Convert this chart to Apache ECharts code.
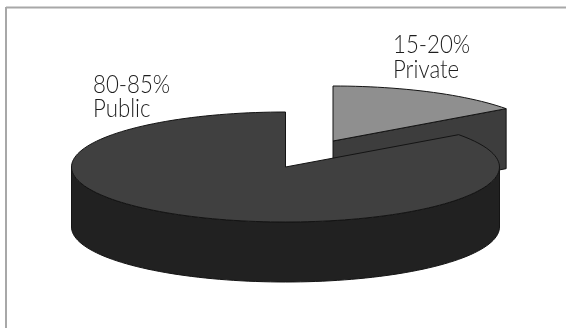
<!DOCTYPE html>
<html>
<head>
<meta charset="utf-8">
<style>
  html, body { margin: 0; padding: 0; background: #fff; }
  #chart { width: 566px; height: 328px; }
</style>
<script src="https://cdn.jsdelivr.net/npm/echarts@6/dist/echarts.min.js"></script>
</head>
<body>
<div id="chart"></div>
<script>
// Share of spending by sector, drawn back to front
const categories = ['Private', 'Public'];
const shares = [15, 85];
const rangeLabels = ['15-20%', '80-85%'];

// Disc projection
const centerX = 285.5, centerY = 167, radiusX = 214, radiusY = 55, depth = 60;
const startAngle = 90;
const explode = [[47.5, -26], [0, 0]];
const topColors = ['#8f8f8f', '#404040'];
const wallColors = ['#3d3d3d', '#212121'];
const outline = '#141414';
const labelPos = [[393, 57, 82], [93, 97, 121]];
const labelFont = '300 25px Lato, "Open Sans", sans-serif';
const labelSquash = 0.89;

const total = shares.reduce((a, b) => a + b, 0);

function arcPoints(cx, cy, from, to, drop) {
  const pts = [];
  const steps = Math.max(2, Math.ceil(Math.abs(to - from) / 2));
  for (let i = 0; i <= steps; i++) {
    const a = (from + (to - from) * i / steps) * Math.PI / 180;
    pts.push([cx + radiusX * Math.cos(a), cy - radiusY * Math.sin(a) + drop]);
  }
  return pts;
}

function faceStyle(fill) {
  return { fill: fill, stroke: outline, lineWidth: 1, lineJoin: 'round' };
}

function labelLine(text, x, y) {
  return {
    type: 'text',
    x: x,
    y: y,
    scaleX: labelSquash,
    style: { x: 0, y: 0, text: text, font: labelFont, fill: '#1e1e1e', verticalAlign: 'bottom', align: 'left' }
  };
}

function renderSlice(params, api) {
  const idx = params.dataIndex;
  const value = api.value(0);
  // Clockwise start angle is the running sum of the preceding shares
  let sumBefore = 0;
  for (let i = 0; i < idx; i++) sumBefore += shares[i];
  const from = startAngle - sumBefore / total * 360;
  const to = from - value / total * 360;
  const cx = centerX + explode[idx][0];
  const cy = centerY + explode[idx][1];
  const children = [];

  // Outer wall: only the part of the rim on the near half of the ellipse
  const wallFrom = Math.min(from, 0);
  const wallTo = Math.max(to, -180);
  if (wallFrom > wallTo) {
    const upper = arcPoints(cx, cy, wallFrom, wallTo, 0);
    const lower = arcPoints(cx, cy, wallTo, wallFrom, depth);
    children.push({ type: 'polygon', shape: { points: upper.concat(lower) }, style: faceStyle(wallColors[idx]) });
  }

  // Cut face along the trailing radius when it turns toward the viewer
  const endRad = to * Math.PI / 180;
  if (Math.cos(endRad) > 1e-6) {
    const ex = cx + radiusX * Math.cos(endRad);
    const ey = cy - radiusY * Math.sin(endRad);
    children.push({
      type: 'polygon',
      shape: { points: [[cx, cy], [ex, ey], [ex, ey + depth], [cx, cy + depth]] },
      style: faceStyle(wallColors[idx])
    });
  }

  // Top face
  children.push({
    type: 'polygon',
    shape: { points: [[cx, cy]].concat(arcPoints(cx, cy, from, to, 0)) },
    style: faceStyle(topColors[idx])
  });

  // Two-line label
  const [lx, y1, y2] = labelPos[idx];
  children.push(labelLine(rangeLabels[idx], lx, y1));
  children.push(labelLine(api.value(1), lx, y2));

  return { type: 'group', children: children };
}

const chart = echarts.init(document.getElementById('chart'), null, { renderer: 'canvas' });
chart.setOption({
  animation: false,
  backgroundColor: '#ffffff',
  graphic: [
    { type: 'line', shape: { x1: 6, y1: 7.5, x2: 566, y2: 7.5 }, style: { stroke: '#a8a8a8', lineWidth: 2 } },
    { type: 'line', shape: { x1: 6, y1: 7, x2: 6, y2: 328 }, style: { stroke: '#a8a8a8', lineWidth: 2 } }
  ],
  series: [{
    type: 'custom',
    coordinateSystem: 'none',
    renderItem: renderSlice,
    dimensions: ['share', 'name'],
    encode: { value: 0 },
    data: categories.map((name, i) => [shares[i], name])
  }]
});
</script>
</body>
</html>
